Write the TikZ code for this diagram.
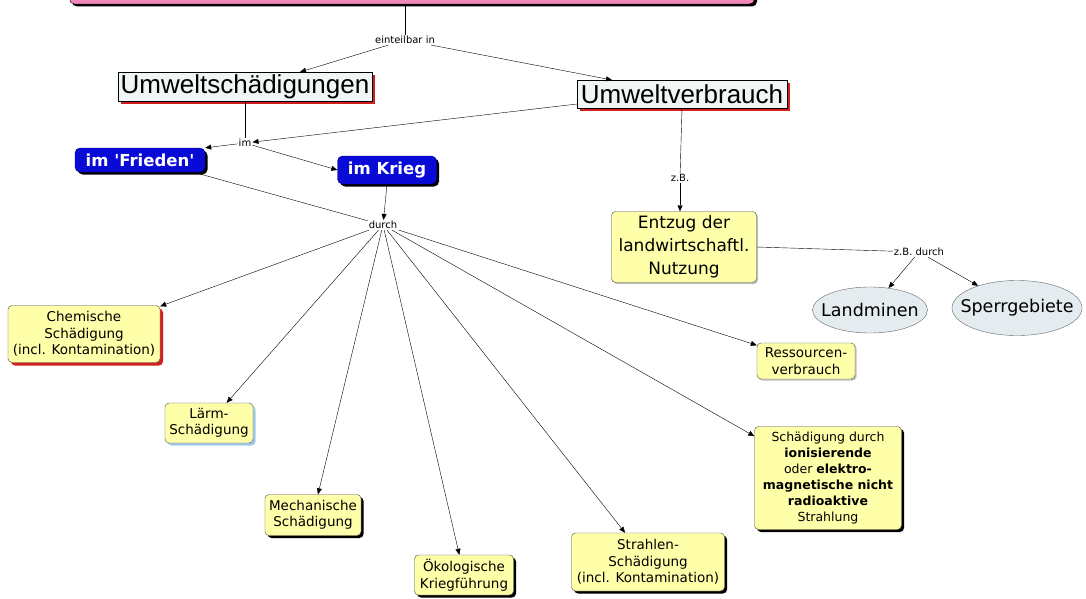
\documentclass[tikz,border=0pt]{standalone}
\usepackage{fontspec}
\setmainfont{DejaVu Sans}
\newfontfamily\narrowfont{Liberation Sans}
\usetikzlibrary{arrows.meta,shadows,shapes.geometric}
\definecolor{notepink}{RGB}{242,135,185}
\definecolor{noteyellow}{RGB}{255,255,170}
\definecolor{noteblue}{RGB}{10,10,215}
\definecolor{notegrey}{RGB}{240,245,245}
\definecolor{ovalgrey}{RGB}{228,236,240}
\definecolor{shadered}{RGB}{210,30,30}
\definecolor{shadeblue}{RGB}{160,200,235}
\tikzset{
  arr/.style = {-{Triangle[length=6pt,width=5pt]}, thin},
  link/.style = {inner sep=1pt, fill=white, font=\fontsize{10}{11}\selectfont},
  yellowbox/.style = {draw=black!70, fill=noteyellow, rounded corners=4pt, align=center,
    font=\fontsize{13.5}{16.5}\selectfont, inner sep=2pt},
  blackshade/.style = {drop shadow={shadow xshift=2.5pt,shadow yshift=-2.5pt,fill=black,opacity=1}},
  redshade/.style = {drop shadow={shadow xshift=3pt,shadow yshift=-3pt,fill=shadered,opacity=1}},
  blueshade/.style = {drop shadow={shadow xshift=2.5pt,shadow yshift=-2.5pt,fill=shadeblue,opacity=1}},
  greyshade/.style = {drop shadow={shadow xshift=1.5pt,shadow yshift=-1.5pt,fill=black!25,opacity=1}},
  bluebox/.style = {fill=noteblue, draw=noteblue!60!black, rounded corners=5pt, text=white,
    font=\fontsize{16.5}{18}\selectfont\bfseries, inner sep=2pt, blackshade},
  umweltbox/.style = {draw=black, fill=notegrey, inner sep=1pt,
    font=\narrowfont\fontsize{26}{28}\selectfont, redshade},
  oval/.style = {ellipse, draw=black!60, fill=ovalgrey, inner sep=0pt,
    font=\fontsize{17.5}{19}\selectfont}
}
\begin{document}
\begin{tikzpicture}[x=1pt, y=-1pt]
  \useasboundingbox[fill=white] (0,0) rectangle (1086,599);
  % cut-off topic at the top
  \node[fill=notepink, draw=black, rounded corners=5pt, blackshade,
    minimum width=685pt, minimum height=36pt] (topic) at (412,-14) {};
  % main concepts
  \node[link] (einteil) at (405,40) {einteilbar in};
  \node[umweltbox, minimum width=254pt, minimum height=29pt] (schaed) at (245,87) {Umweltschädigungen};
  \node[umweltbox, minimum width=210pt, minimum height=28pt] (verbr) at (682,94) {Umweltverbrauch};
  \node[link] (im) at (245,143) {im};
  \node[bluebox, minimum width=130pt, minimum height=24pt] (frieden) at (140,160)
    {im \textquotesingle Frieden\textquotesingle};
  \node[bluebox, minimum width=99pt, minimum height=28pt] (krieg) at (387,170) {im Krieg};
  \node[link] (durch) at (383,225) {durch};
  \node[link] (zb) at (680,178) {z.B.};
  \node[yellowbox, font=\fontsize{17}{23}\selectfont, greyshade,
    minimum width=145pt, minimum height=71pt] (entzug) at (684,247)
    {Entzug der\\landwirtschaftl.\\Nutzung};
  \node[link] (zbdurch) at (919,252) {z.B. durch};
  \node[oval, minimum width=115pt, minimum height=46pt] (minen) at (870,310)
    {\makebox[50pt]{Landminen}};
  \node[oval, minimum width=130pt, minimum height=55pt] (sperr) at (1017,308)
    {\makebox[50pt]{Sperrgebiete}};
  % kinds of damage
  \node[yellowbox, redshade, minimum width=152pt, minimum height=57pt] (chem) at (84,334)
    {Chemische\\Schädigung\\(incl. Kontamination)};
  \node[yellowbox, greyshade, minimum width=98pt, minimum height=36pt] (ress) at (806,361)
    {Ressourcen-\\verbrauch};
  \node[yellowbox, blueshade, minimum width=88pt, minimum height=40pt] (laerm) at (209,423)
    {Lärm-\\Schädigung};
  \node[yellowbox, blackshade, minimum width=96pt, minimum height=41pt] (mech) at (313,515)
    {Mechanische\\Schädigung};
  \node[yellowbox, blackshade, minimum width=99pt, minimum height=40pt] (oeko) at (464,575)
    {Ökologische\\Kriegführung};
  \node[yellowbox, blackshade, minimum width=153pt, minimum height=58pt] (strahl) at (648,562)
    {Strahlen-\\Schädigung\\(incl. Kontamination)};
  \node[yellowbox, blackshade, font=\fontsize{12.5}{16}\selectfont,
    minimum width=147pt, minimum height=103pt] (ion) at (828,478)
    {Schädigung durch\\\textbf{ionisierende}\\oder \textbf{elektro-}\\\textbf{magnetische nicht}\\\textbf{radioaktive}\\Strahlung};
  % connectors
  \draw (topic.south -| einteil) -- (einteil);
  \draw[arr] (einteil) -- (300,72);
  \draw[arr] (einteil) -- (612,80);
  \draw (schaed.south) -- (im);
  \draw[arr] (577,104) -- (im);
  \draw[arr] (im) -- (frieden.north east);
  \draw[arr] (im) -- (krieg.west);
  \draw (200,174) -- (durch);
  \draw[arr] (krieg.south) -- (durch);
  \foreach \target in {chem,laerm,mech,oeko,strahl,ion,ress}
    \draw[arr] (durch) -- (\target);
  \draw (verbr.south) -- (zb);
  \draw[arr] (zb) -- (entzug.north -| zb);
  \draw (entzug.east) -- (zbdurch);
  \draw[arr] (zbdurch) -- (minen);
  \draw[arr] (zbdurch) -- (sperr);
\end{tikzpicture}
\end{document}
